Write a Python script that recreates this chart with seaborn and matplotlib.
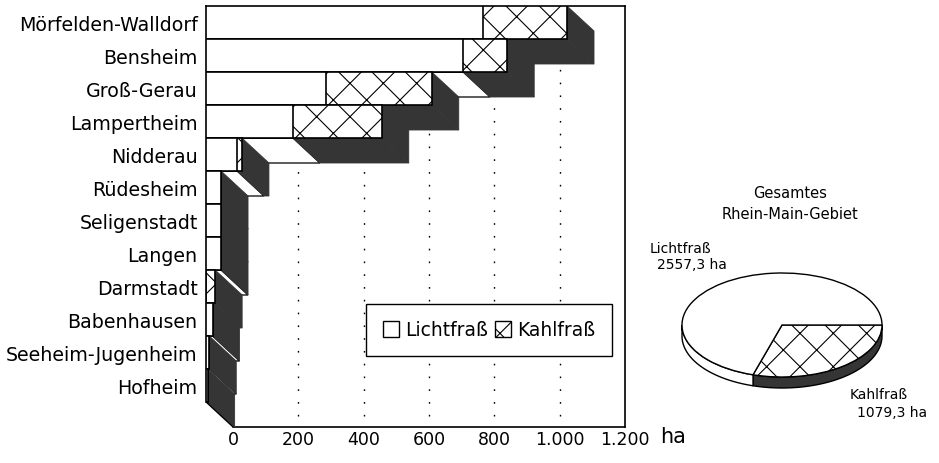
import numpy as np
import pandas as pd
import matplotlib
matplotlib.use("Agg")
import matplotlib.pyplot as plt
from matplotlib.patches import Patch
import seaborn as sns

# ---------------- data ----------------
regions = ["Mörfelden-Walldorf", "Bensheim", "Groß-Gerau", "Lampertheim", "Nidderau",
           "Rüdesheim", "Seligenstadt", "Langen", "Darmstadt", "Babenhausen",
           "Seeheim-Jugenheim", "Hofheim"]
lichtfrass = [848, 787, 367, 266, 95, 46, 46, 46, 0, 20, 10, 5]
kahlfrass = [257, 135, 324, 272, 15, 0, 0, 0, 28, 0, 0, 0]
x_ticks = [0, 200, 400, 600, 800, 1000, 1200]
x_tick_labels = ["0", "200", "400", "600", "800", "1.000", "1.200"]
pie_names = ["Kahlfraß", "Lichtfraß"]
pie_values = [1079.3, 2557.3]

# ---------------- style / layout ----------------
sns.set_theme(style="white")
plt.rcParams["font.family"] = ["DejaVu Sans"]
plt.rcParams["hatch.linewidth"] = 0.8
for key in ["text.color", "axes.labelcolor", "xtick.color", "ytick.color"]:
    plt.rcParams[key] = "black"
DARK = "#353535"
W, H = 939, 464
fig = plt.figure(figsize=(W / 100, H / 100), dpi=100)
fig.patch.set_facecolor("white")

def fx(x):
    return x / W

def fy(y):
    return 1 - y / H

px_per_ha = 0.3267
front_left, top_px, row_h = 206, 7, 33
depth_x, depth_y = 27, 25
n = len(regions)
right_px = front_left + depth_x + 1200 * px_per_ha
bottom_px = top_px + row_h * n + depth_y
xmax = (right_px - front_left) / px_per_ha
dxh = depth_x / px_per_ha
dyr = depth_y / row_h

ax = fig.add_axes([fx(front_left), fy(bottom_px), (right_px - front_left) / W,
                   (bottom_px - top_px) / H])

df = pd.DataFrame({"Region": regions, "Lichtfraß": lichtfrass, "Kahlfraß": kahlfrass})
df["Gesamt"] = df["Lichtfraß"] + df["Kahlfraß"]

sns.barplot(data=df, x="Gesamt", y="Region", color="white", edgecolor="black",
            linewidth=1.2, hatch="x", width=1.0, errorbar=None, saturation=1, ax=ax)
n_tot = len(ax.patches)
sns.barplot(data=df, x="Lichtfraß", y="Region", color="white", edgecolor="black",
            linewidth=1.2, width=1.0, errorbar=None, saturation=1, ax=ax)

for k, p in enumerate(ax.patches):
    i = int(round(p.get_y() + p.get_height() / 2))
    p.set_zorder(11 + 3 * i + (1 if k >= n_tot else 0))
    p.set_facecolor("white")

# 3D depth faces (bottom faces and right end faces)
for i, (L, K) in enumerate(zip(lichtfrass, kahlfrass)):
    T = L + K
    t, b = i - 0.5, i + 0.5
    z = 10 + 3 * i
    if L > 0:
        ax.fill([0, L, L + dxh, dxh], [b, b, b + dyr, b + dyr], facecolor="white",
                edgecolor="black", lw=0.9, zorder=z)
    if K > 0:
        ax.fill([L, T, T + dxh, L + dxh], [b, b, b + dyr, b + dyr], facecolor=DARK,
                edgecolor=DARK, lw=0.6, zorder=z)
    ax.fill([T, T + dxh, T + dxh, T], [t, t + dyr, b + dyr, b], facecolor=DARK,
            edgecolor=DARK, lw=0.6, zorder=z)

# back-plane dotted grid
for v in x_ticks[1:-1]:
    ax.plot([v + dxh, v + dxh], [-0.5 + dyr, n - 0.5 + dyr], color="black", lw=1,
            ls=(0, (1.2, 8)), zorder=1)

ax.set_xlim(0, xmax)
ax.set_ylim(n - 0.5 + dyr, -0.5)
ax.set_xticks([v + dxh for v in x_ticks])
ax.set_xticklabels(x_tick_labels)
ax.set_xlabel("")
ax.set_ylabel("")
ax.tick_params(axis="x", length=0, pad=2, labelsize=12.5, colors="black")
ax.tick_params(axis="y", length=0, pad=6, labelsize=13.7, colors="black")
for s in ax.spines.values():
    s.set_visible(True)
    s.set_color("black")
    s.set_linewidth(1.2)
ax.spines["left"].set_bounds(-0.5, n - 0.5)
ax.spines["bottom"].set_bounds(dxh, xmax)
ax.set_facecolor("white")

fig.text(fx(660), fy(443), "ha", fontsize=15, ha="left", va="baseline")

handles = [Patch(facecolor="white", edgecolor="black", label="Lichtfraß"),
           Patch(facecolor="white", edgecolor="black", hatch="x", label="Kahlfraß")]
leg = fig.legend(handles=handles, loc="center", bbox_to_anchor=(fx(489), fy(331)),
                 ncol=2, frameon=True, fancybox=False, edgecolor="black", framealpha=1,
                 fontsize=13.5, handlelength=0.85, handleheight=1.0, handletextpad=0.3,
                 columnspacing=0.4, borderpad=0.9)
leg.get_frame().set_linewidth(1)

# ---------------- pie ----------------
cx, cy, a_px, b_px, d_px = 782, 326, 100, 52, 11
pl, pr, pt, pb = cx - 1.1 * a_px, cx + 1.1 * a_px, cy - 1.1 * b_px, cy + 1.35 * b_px
pax = fig.add_axes([fx(pl), fy(pb), (pr - pl) / W, (pb - pt) / H])
wedges, _ = pax.pie(pie_values, startangle=0, counterclock=False,
                    colors=["white", "white"],
                    wedgeprops=dict(edgecolor="black", linewidth=1))
wedges[0].set_hatch("x")
for w in wedges:
    w.set_zorder(2)
d = d_px / b_px
theta_k = -360 * pie_values[0] / sum(pie_values)
for a0, a1, col in [(0, theta_k, DARK), (theta_k, -180, "white")]:
    tt = np.radians(np.linspace(a0, a1, 80))
    xs = np.concatenate([np.cos(tt), np.cos(tt[::-1])])
    ys = np.concatenate([np.sin(tt), np.sin(tt[::-1]) - d])
    pax.fill(xs, ys, facecolor=col, edgecolor="black", lw=1, zorder=1)
pax.set_aspect("auto")
pax.set_xlim(-1.1, 1.1)
pax.set_ylim(-1.35, 1.1)
pax.axis("off")

fig.text(fx(790), fy(194), "Gesamtes", fontsize=10.5, ha="center", va="center")
fig.text(fx(790), fy(215), "Rhein-Main-Gebiet", fontsize=10.5, ha="center", va="center")
fig.text(fx(650), fy(249), pie_names[1], fontsize=10, ha="left", va="center")
fig.text(fx(657), fy(265), f"{pie_values[1]:.1f} ha".replace(".", ","), fontsize=10,
         ha="left", va="center")
fig.text(fx(850), fy(395), pie_names[0], fontsize=10, ha="left", va="center")
fig.text(fx(857), fy(413), f"{pie_values[0]:.1f} ha".replace(".", ","), fontsize=10,
         ha="left", va="center")

fig.savefig("out.png", dpi=100, facecolor="white")
